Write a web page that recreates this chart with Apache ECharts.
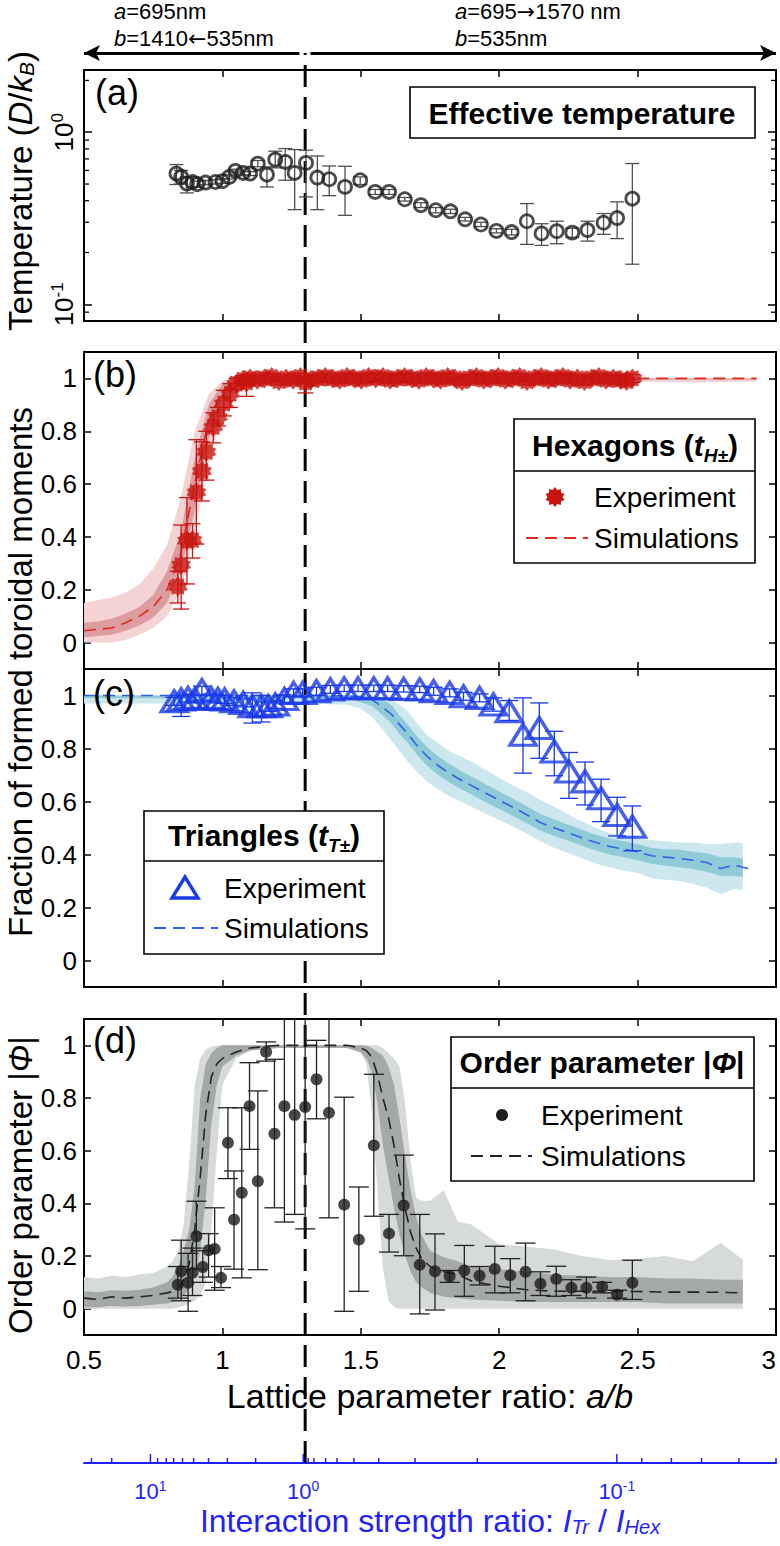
<!DOCTYPE html>
<html>
<head>
<meta charset="utf-8">
<title>Lattice parameter ratio</title>
<script src="https://cdn.jsdelivr.net/npm/echarts@6.0.0/dist/echarts.min.js"></script>
<style>
html,body{margin:0;padding:0;background:#ffffff;}
#chart{width:780px;height:1546px;}
</style>
</head>
<body>
<div id="chart"></div>
<script>
const FONT = "'Liberation Sans', Arial, Helvetica, sans-serif";

// ---------- shared a/b axis ----------
const xMin = 0.5, xMax = 3.0, xStep = 0.5;
const dividerAB = 1.299;                 // a/b = 695/535
const arrowLeftAB = [0.5, 1.278];
const arrowRightAB = [1.318, 3.0];

// ---------- (a) effective temperature ----------
const logMin = 0.08, logMax = 2.3;
const logMinorTicks = [0.09, 0.2, 0.3, 0.4, 0.5, 0.6, 0.7, 0.8, 0.9, 2];
const tempAB  = [0.834,0.851,0.872,0.892,0.909,0.939,0.975,1.000,1.025,1.047,1.075,1.100,1.128,1.161,1.191,1.227,1.261,1.302,1.343,1.386,1.443,1.498,1.552,1.602,1.659,1.717,1.771,1.824,1.877,1.934,1.990,2.045,2.100,2.153,2.208,2.264,2.319,2.377,2.426,2.481];
const tempVal = [0.575,0.550,0.503,0.514,0.499,0.510,0.514,0.520,0.550,0.596,0.580,0.575,0.657,0.567,0.694,0.672,0.580,0.663,0.545,0.533,0.481,0.526,0.450,0.450,0.408,0.377,0.352,0.347,0.312,0.291,0.267,0.263,0.304,0.258,0.266,0.261,0.270,0.298,0.317,0.411];
const tempLo  = [0.497,0.500,0.444,0.480,0.480,0.495,0.500,0.505,0.535,0.580,0.565,0.560,0.630,0.481,0.621,0.526,0.355,0.421,0.355,0.428,0.329,0.497,0.435,0.435,0.398,0.365,0.340,0.337,0.305,0.283,0.260,0.253,0.223,0.220,0.225,0.245,0.233,0.255,0.241,0.171];
const tempHi  = [0.649,0.600,0.550,0.550,0.520,0.525,0.530,0.535,0.565,0.610,0.595,0.590,0.685,0.629,0.776,0.804,0.793,0.786,0.728,0.637,0.634,0.550,0.465,0.465,0.418,0.390,0.365,0.357,0.320,0.300,0.275,0.273,0.385,0.294,0.304,0.277,0.304,0.337,0.394,0.658];

// ---------- (b) hexagons ----------
const hexAB = [0.839,0.851,0.872,0.892,0.906,0.926,0.942,0.967,0.984,1.005,
  1.028,1.050,1.075,1.087,1.100,1.126,1.152,1.178,1.204,1.230,
  1.256,1.282,1.300,1.320,1.346,1.372,1.398,1.424,1.450,1.476,
  1.502,1.528,1.554,1.580,1.606,1.632,1.658,1.684,1.710,1.736,
  1.762,1.788,1.814,1.840,1.866,1.892,1.918,1.944,1.970,1.996,
  2.022,2.048,2.074,2.100,2.126,2.152,2.178,2.204,2.230,2.256,
  2.282,2.308,2.334,2.360,2.386,2.412,2.438,2.460,2.481];
const hexVal = [0.212,0.294,0.386,0.388,0.569,0.649,0.722,0.816,0.854,0.905,
  0.942,0.980,0.995,0.985,1.000,0.995,1.000,1.005,0.990,1.000,
  0.995,1.005,0.985,0.995,1.000,1.005,1.000,0.995,1.005,1.000,
  0.995,1.005,1.000,1.005,0.995,1.000,1.005,1.000,0.995,1.005,
  1.000,0.995,1.005,1.000,0.990,1.000,1.005,0.995,1.000,1.005,
  0.995,1.000,1.005,0.990,1.000,1.005,0.995,1.000,1.005,0.995,
  1.000,0.990,1.000,1.005,0.995,1.000,0.995,0.990,1.000];
const hexErrDown = [0.062,0.167,0.164,0.068,0.196,0.113,0.107,0.060,0.034,0.047,
  0.052,0.020,0.020,0.053,0.015,0.015,0.015,0.015,0.015,0.015,
  0.015,0.015,0.040,0.015,0.015,0.015,0.015,0.015,0.015,0.015,
  0.015,0.015,0.015,0.015,0.015,0.015,0.015,0.015,0.015,0.015,
  0.015,0.015,0.015,0.015,0.015,0.015,0.015,0.015,0.015,0.015,
  0.015,0.015,0.015,0.015,0.015,0.015,0.015,0.015,0.015,0.015,
  0.015,0.015,0.015,0.015,0.015,0.015,0.015,0.015,0.015];
const hexErrUp = [0.058,0.151,0.163,0.062,0.199,0.111,0.078,0.054,0.036,0.050,
  0.038,0.020,0.015,0.025,0.015,0.015,0.015,0.015,0.015,0.015,
  0.015,0.015,0.015,0.015,0.015,0.015,0.015,0.015,0.015,0.015,
  0.015,0.015,0.015,0.015,0.015,0.015,0.015,0.015,0.015,0.015,
  0.015,0.015,0.015,0.015,0.015,0.015,0.015,0.015,0.015,0.015,
  0.015,0.015,0.015,0.015,0.015,0.015,0.015,0.015,0.015,0.015,
  0.015,0.015,0.015,0.015,0.015,0.015,0.015,0.015,0.015];
const hexSimX     = [0.50,0.55,0.60,0.65,0.70,0.75,0.80,0.85,0.90,0.95,1.00,1.05,1.10,1.20,1.50,2.00,2.50,2.70,2.93];
const hexSimY     = [0.045,0.050,0.055,0.075,0.100,0.135,0.200,0.340,0.600,0.840,0.950,0.990,1.000,1.000,1.000,1.000,1.000,1.000,1.000];
const hexDarkLo   = [0.020,0.025,0.030,0.045,0.065,0.095,0.150,0.270,0.500,0.770,0.920,0.970,0.990,0.995,0.995,0.995,0.995,0.995,0.995];
const hexDarkHi   = [0.075,0.080,0.090,0.110,0.135,0.180,0.270,0.420,0.700,0.900,0.980,1.000,1.000,1.000,1.000,1.000,1.000,1.000,1.000];
const hexLightLo  = [0.000,0.000,0.000,0.010,0.030,0.055,0.100,0.200,0.420,0.680,0.870,0.950,0.980,0.990,0.990,0.990,0.988,0.985,0.988];
const hexLightHi  = [0.150,0.160,0.170,0.190,0.220,0.280,0.370,0.550,0.800,0.940,0.990,1.000,1.000,1.000,1.000,1.000,1.000,1.000,1.000];

// ---------- (c) triangles ----------
const triAB  = [0.826,0.851,0.876,0.901,0.926,0.959,0.984,1.008,1.042,1.075,
  1.108,1.141,1.166,1.191,1.224,1.257,1.290,1.340,1.390,1.440,
  1.490,1.547,1.597,1.655,1.713,1.763,1.821,1.871,1.929,1.979,
  2.036,2.086,2.145,2.199,2.252,2.310,2.368,2.426,2.481];
const triVal = [0.978,0.985,0.991,0.987,1.020,0.991,0.987,0.985,0.978,0.972,
  0.960,0.960,0.960,0.966,0.987,1.010,1.010,1.016,1.023,1.027,
  1.027,1.027,1.027,1.025,1.023,1.016,1.010,0.997,0.991,0.966,
  0.941,0.852,0.877,0.789,0.713,0.676,0.612,0.549,0.505];
const triErrDown = [0.015,0.064,0.015,0.015,0.020,0.015,0.015,0.015,0.015,0.015,
  0.064,0.060,0.020,0.015,0.015,0.015,0.015,0.015,0.015,0.012,
  0.012,0.012,0.012,0.012,0.012,0.015,0.015,0.015,0.015,0.025,
  0.035,0.145,0.114,0.092,0.101,0.089,0.088,0.079,0.091];
const triErrUp = [0.015,0.015,0.015,0.015,0.015,0.015,0.015,0.015,0.015,0.015,
  0.050,0.040,0.015,0.015,0.015,0.015,0.015,0.015,0.015,0.012,
  0.012,0.012,0.012,0.012,0.012,0.015,0.015,0.015,0.015,0.025,
  0.040,0.139,0.095,0.076,0.072,0.073,0.072,0.067,0.078];
const triSimX = [0.50,0.70,0.90,1.10,1.30,1.45,1.50,1.54,1.58,1.61,1.64,1.67,1.70,1.74,1.78,1.82,1.86,1.90,1.95,2.00,2.05,2.10,2.15,2.20,2.25,2.30,2.35,2.40,2.45,2.50,2.55,2.60,2.65,2.70,2.75,2.80,2.85,2.88,2.924];
const triSimY = [1.000,1.000,1.000,1.000,1.000,0.998,0.995,0.985,0.955,0.930,0.890,0.855,0.815,0.770,0.735,0.707,0.682,0.660,0.632,0.605,0.578,0.550,0.520,0.500,0.482,0.462,0.445,0.430,0.420,0.410,0.395,0.390,0.385,0.378,0.370,0.347,0.360,0.352,0.341];
const triBandX = [0.50,0.70,0.90,1.10,1.30,1.45,1.50,1.54,1.58,1.61,1.64,1.67,1.70,1.74,1.78,1.82,1.86,1.90,1.95,2.00,2.05,2.10,2.15,2.20,2.25,2.30,2.35,2.40,2.45,2.50,2.55,2.60,2.65,2.70,2.75,2.80,2.85,2.88];
const triDarkLo  = [0.990,0.990,0.990,0.990,0.990,0.988,0.975,0.960,0.925,0.895,0.855,0.820,0.780,0.735,0.700,0.672,0.648,0.626,0.598,0.572,0.545,0.518,0.490,0.470,0.452,0.432,0.415,0.400,0.390,0.378,0.365,0.358,0.352,0.345,0.335,0.320,0.318,0.316];
const triDarkHi  = [1.000,1.000,1.000,1.000,1.000,1.000,1.000,0.998,0.985,0.965,0.925,0.890,0.850,0.805,0.770,0.742,0.716,0.694,0.666,0.638,0.610,0.582,0.552,0.532,0.512,0.492,0.475,0.460,0.450,0.440,0.425,0.420,0.418,0.410,0.405,0.390,0.390,0.385];
const triLightLo = [0.970,0.970,0.970,0.970,0.970,0.965,0.950,0.920,0.870,0.830,0.790,0.750,0.715,0.675,0.645,0.620,0.600,0.580,0.555,0.530,0.505,0.478,0.450,0.425,0.405,0.385,0.365,0.352,0.340,0.330,0.310,0.305,0.300,0.290,0.275,0.250,0.270,0.265];
const triLightHi = [1.000,1.000,1.000,1.000,1.000,1.000,1.000,1.000,0.995,0.985,0.965,0.940,0.900,0.850,0.820,0.790,0.770,0.750,0.720,0.690,0.660,0.635,0.605,0.580,0.550,0.525,0.500,0.480,0.470,0.460,0.455,0.450,0.445,0.445,0.440,0.440,0.445,0.445];

// ---------- (d) order parameter ----------
const ordAB  = [0.839,0.851,0.876,0.892,0.906,0.929,0.950,0.972,0.995,1.020,
  1.042,1.070,1.098,1.128,1.158,1.188,1.224,1.261,1.299,1.340,
  1.385,1.440,1.493,1.547,1.602,1.655,1.713,1.768,1.821,1.874,
  1.929,1.984,2.040,2.095,2.149,2.206,2.261,2.315,2.372,2.426,2.481];
const ordVal = [0.091,0.142,0.098,0.136,0.275,0.158,0.222,0.227,0.117,0.630,
  0.338,0.440,0.769,0.484,0.975,0.664,0.769,0.735,0.766,0.871,
  0.744,0.395,0.262,0.620,0.285,0.392,0.167,0.142,0.123,0.145,
  0.125,0.151,0.127,0.140,0.095,0.113,0.079,0.079,0.083,0.053,0.098];
const ordLo  = [0.040,0.030,-0.010,0.050,0.150,0.100,0.120,0.070,0.080,0.494,
  0.150,0.117,0.605,0.148,0.940,0.383,0.329,0.358,0.303,0.721,
  0.345,-0.010,0.066,0.351,0.215,0.201,-0.020,-0.005,0.100,0.047,
  0.090,0.060,0.060,0.030,0.050,0.047,0.050,0.040,0.060,0.040,0.035];
const ordHi  = [0.160,0.260,0.210,0.230,0.408,0.220,0.285,0.383,0.160,0.763,
  0.523,0.763,0.934,0.827,1.013,0.947,1.210,1.150,1.230,1.019,
  1.140,0.803,0.462,0.890,0.358,0.583,0.358,0.284,0.145,0.240,
  0.160,0.237,0.190,0.249,0.140,0.161,0.110,0.120,0.100,0.070,0.184];
const ordSimX = [0.50,0.55,0.60,0.65,0.70,0.75,0.80,0.82,0.84,0.86,0.88,0.90,0.92,0.94,0.96,0.98,1.00,1.05,1.10,1.20,1.30,1.40,1.45,1.50,1.52,1.54,1.56,1.58,1.60,1.62,1.64,1.66,1.68,1.70,1.72,1.75,1.80,1.85,1.90,2.00,2.10,2.20,2.30,2.40,2.50,2.60,2.70,2.80,2.88];
const ordSimY = [0.040,0.035,0.045,0.040,0.045,0.050,0.060,0.065,0.080,0.110,0.170,0.300,0.500,0.740,0.880,0.930,0.950,0.975,0.990,1.000,1.000,1.000,1.000,0.990,0.980,0.955,0.890,0.800,0.725,0.620,0.490,0.380,0.290,0.230,0.190,0.160,0.140,0.130,0.105,0.085,0.072,0.066,0.066,0.066,0.065,0.063,0.063,0.062,0.060];
const ordDarkLo = [0.005,0.005,0.010,0.008,0.010,0.015,0.020,0.025,0.035,0.050,0.075,0.120,0.220,0.420,0.700,0.850,0.920,0.960,0.980,0.990,0.990,0.990,0.990,0.975,0.950,0.900,0.780,0.620,0.500,0.380,0.280,0.200,0.140,0.100,0.080,0.060,0.045,0.040,0.035,0.030,0.025,0.025,0.025,0.025,0.025,0.020,0.020,0.020,0.020];
const ordDarkHi = [0.066,0.062,0.070,0.068,0.072,0.080,0.100,0.120,0.160,0.220,0.300,0.470,0.800,0.930,0.970,0.990,1.000,1.000,1.000,1.000,1.000,1.000,1.000,1.000,0.998,0.990,0.975,0.960,0.920,0.850,0.720,0.580,0.450,0.350,0.280,0.220,0.195,0.180,0.160,0.150,0.140,0.130,0.125,0.120,0.120,0.115,0.115,0.110,0.110];
const ordLightLo = [0.000,0.000,0.000,0.000,0.000,0.000,0.000,0.000,0.005,0.010,0.020,0.030,0.050,0.100,0.300,0.600,0.850,0.950,0.980,0.990,0.990,0.990,0.990,0.970,0.930,0.750,0.450,0.150,0.030,0.005,0.000,0.000,0.000,0.000,0.000,0.000,0.000,0.000,0.000,0.000,0.000,0.000,0.000,0.000,0.000,0.000,0.000,0.000,0.000];
const ordLightHi = [0.120,0.115,0.125,0.120,0.130,0.135,0.160,0.180,0.220,0.320,0.550,0.850,0.950,0.985,0.995,1.000,1.000,1.000,1.000,1.000,1.000,1.000,1.000,1.000,1.000,1.000,1.000,0.990,0.970,0.950,0.920,0.780,0.560,0.420,0.410,0.410,0.450,0.330,0.320,0.245,0.235,0.225,0.200,0.185,0.190,0.200,0.180,0.250,0.186];

// ---------- interaction-strength axis (positions in a/b units) ----------
const blueMajorAB  = [0.740, 1.292, 2.425];
const blueMajorExp = ['1', '0', '-1'];
const blueMinorAB  = [0.527,0.600,0.766,0.797,0.824,0.856,0.896,0.950,1.018,1.120,1.310,1.331,1.373,1.414,1.475,1.565,1.696,1.921,2.515,2.622,2.731,2.866,3.000];

// ---------- colours ----------
const BLUE = '#1f1fff';
const HEX_C = '#c8140f', HEX_LINE = '#e4271f', HEX_DARK = '#dc9da0', HEX_LIGHT = '#f3d3d3';
const TRI_C = '#1a3ae8', TRI_LINE = '#2f62ee', TRI_DARK = '#8fcad6', TRI_LIGHT = '#cce8ee';
const ORD_C = '#1c1c1c', ORD_LINE = '#222222', ORD_DARK = '#a5a9a6', ORD_LIGHT = '#d6dbd7';
const TEMP_C = '#1e1e1e';

function rich(size, color, weight, lhf) {
  const w = weight || 'normal';
  const lh = Math.round(size * (lhf || 1.3));
  const small = Math.round(size * 0.64);
  const base = {fontFamily: FONT, fontWeight: w, color: color, fill: color};
  return {
    n: Object.assign({fontSize: size, lineHeight: lh, verticalAlign: 'middle'}, base),
    i: Object.assign({fontSize: size, lineHeight: lh, verticalAlign: 'middle', fontStyle: 'italic'}, base),
    ar: Object.assign({fontSize: size, lineHeight: lh, verticalAlign: 'middle'}, base, {fontFamily: "'DejaVu Sans', sans-serif"}),
    sub: Object.assign({fontSize: small, lineHeight: small, verticalAlign: 'bottom', fontStyle: 'italic'}, base),
    sup: Object.assign({fontSize: small, lineHeight: small, verticalAlign: 'top'}, base)
  };
}

function starPath(n, rIn) {
  let d = '';
  for (let k = 0; k < 2 * n; k++) {
    const r = (k % 2) ? rIn : 1;
    const a = Math.PI * k / n - Math.PI / 2;
    d += (k ? 'L' : 'M') + (50 + 50 * r * Math.cos(a)).toFixed(2) + ' ' + (50 + 50 * r * Math.sin(a)).toFixed(2);
  }
  return 'path://' + d + 'Z';
}
function starPoints(cx, cy, R, n, rIn) {
  const pts = [];
  for (let k = 0; k < 2 * n; k++) {
    const r = (k % 2) ? rIn * R : R;
    const a = Math.PI * k / n - Math.PI / 2;
    pts.push([cx + r * Math.cos(a), cy + r * Math.sin(a)]);
  }
  return pts;
}

// ---------- layout ----------
const GL = 84, GW = 692;
const grids = [
  {left: GL, width: GW, top: 70, height: 251},
  {left: GL, width: GW, top: 352, height: 317},
  {left: GL, width: GW, top: 669, height: 318},
  {left: GL, width: GW, top: 1019, height: 316},
  {left: GL, width: GW, top: 53, height: 1410}
].map(g => Object.assign({show: false, containLabel: false, outerBoundsMode: 'none'}, g));

function mkX(g, pos, labels) {
  const ax = {
    gridIndex: g, type: 'value', min: xMin, max: xMax, interval: xStep, position: pos,
    axisLine: {show: true, onZero: false, lineStyle: {color: '#000', width: 2}},
    axisTick: {show: true, inside: true, length: 7, lineStyle: {color: '#000', width: 1.5}},
    axisLabel: {show: labels, color: '#000', fontSize: 26, fontFamily: FONT, margin: 12, alignMaxLabel: 'right', formatter: v => String(v)},
    splitLine: {show: false}
  };
  if (labels) {
    Object.assign(ax, {
      name: '{n|Lattice parameter ratio: }{i|a/b}', nameLocation: 'middle', nameGap: 44, nameMoveOverlap: false,
      nameTextStyle: {fontSize: 34, fontFamily: FONT, color: '#000', rich: rich(34, '#000', 'normal', 1.0)}
    });
  }
  return ax;
}
const xAxes = [];
for (let g = 0; g < 4; g++) { xAxes.push(mkX(g, 'bottom', g === 3)); xAxes.push(mkX(g, 'top', false)); }
xAxes.push({
  gridIndex: 4, type: 'value', min: xMin, max: xMax, position: 'bottom',
  axisLine: {show: true, onZero: false, lineStyle: {color: BLUE, width: 2}},
  axisTick: {show: false}, axisLabel: {show: false}, splitLine: {show: false},
  name: '{n|Interaction strength ratio: }{i|I}{sub|Tr}{n| / }{i|I}{sub|Hex}', nameLocation: 'middle', nameGap: 42, nameMoveOverlap: false,
  nameTextStyle: {fontSize: 32, fontFamily: FONT, color: BLUE, rich: rich(32, BLUE, 'normal', 1.0)}
});

function logLabel(v) {
  const e = Math.log10(v), r = Math.round(e);
  if (Math.abs(e - r) > 1e-6) return '';
  return '{n|10}{sup|' + r + '}';
}
function mkLogY(pos, labels) {
  return {
    gridIndex: 0, type: 'log', logBase: 10, min: logMin, max: logMax, position: pos,
    axisLine: {show: true, onZero: false, lineStyle: {color: '#000', width: 2}},
    axisTick: {show: true, inside: true, length: 8, lineStyle: {color: '#000', width: 1.5}},
    axisLabel: {show: labels, rotate: 90, margin: 6, formatter: logLabel, rich: rich(26, '#000', 'normal', 1.1)},
    splitLine: {show: false}, minorTick: {show: false}
  };
}
function mkValY(g, pos, labels) {
  return {
    gridIndex: g, type: 'value', min: -0.1, max: 1.1, position: pos,
    axisLine: {show: true, onZero: false, lineStyle: {color: '#000', width: 2}},
    axisTick: {show: true, inside: true, length: 7, lineStyle: {color: '#000', width: 1.5}},
    axisLabel: {show: labels, color: '#000', fontSize: 26, fontFamily: FONT, margin: 7, showMinLabel: false, showMaxLabel: false},
    splitLine: {show: false}
  };
}
const yAxes = [mkLogY('left', true), mkLogY('right', false)];
for (let g = 1; g < 4; g++) { yAxes.push(mkValY(g, 'left', true)); yAxes.push(mkValY(g, 'right', false)); }
yAxes.push({gridIndex: 4, type: 'value', min: 0, max: 1, show: false});

// ---------- series helpers ----------
function errSeries(xi, yi, rows, capW, color, lw) {
  return {
    type: 'custom', xAxisIndex: xi, yAxisIndex: yi, data: rows, encode: {x: 0, y: 1}, clip: true, z: 4, silent: true,
    renderItem: (params, api) => {
      const x = api.value(0), lo = api.value(2), hi = api.value(3);
      const a = api.coord([x, lo]), b = api.coord([x, hi]), h = capW / 2;
      const st = {stroke: color, lineWidth: lw};
      return {type: 'group', children: [
        {type: 'line', shape: {x1: a[0], y1: a[1], x2: b[0], y2: b[1]}, style: st},
        {type: 'line', shape: {x1: a[0] - h, y1: a[1], x2: a[0] + h, y2: a[1]}, style: st},
        {type: 'line', shape: {x1: b[0] - h, y1: b[1], x2: b[0] + h, y2: b[1]}, style: st}
      ]};
    }
  };
}
function bandSeries(xi, yi, xs, lo, hi, color) {
  return {
    type: 'custom', xAxisIndex: xi, yAxisIndex: yi, data: xs.map((x, k) => [x, lo[k], hi[k]]),
    encode: {x: 0, y: [1, 2]}, clip: true, z: 1, silent: true,
    renderItem: (params, api) => {
      if (params.dataIndex !== 0) return null;
      const pts = [];
      for (let k = 0; k < xs.length; k++) pts.push(api.coord([xs[k], hi[k]]));
      for (let k = xs.length - 1; k >= 0; k--) pts.push(api.coord([xs[k], lo[k]]));
      return {type: 'polygon', shape: {points: pts}, style: {fill: color}};
    }
  };
}
function simLine(xi, yi, xs, ys, color) {
  return {type: 'line', xAxisIndex: xi, yAxisIndex: yi, data: xs.map((x, k) => [x, ys[k]]), symbol: 'none',
    lineStyle: {color: color, width: 1.6, type: [12, 7]}, z: 2, silent: true, clip: true};
}

const series = [];
// (a)
series.push(errSeries(0, 0, tempAB.map((x, k) => [x, tempVal[k], tempLo[k], tempHi[k]]), 14, '#505050', 1.3));
series.push({type: 'scatter', xAxisIndex: 0, yAxisIndex: 0, data: tempAB.map((x, k) => [x, tempVal[k]]),
  symbol: 'circle', symbolSize: 13, itemStyle: {color: 'rgba(0,0,0,0)', borderColor: TEMP_C, borderWidth: 2.8}, z: 5, silent: true});
series.push({type: 'custom', xAxisIndex: 0, yAxisIndex: 0, data: logMinorTicks.map(v => [xMin, v]), encode: {x: 0, y: 1},
  clip: false, z: 6, silent: true,
  renderItem: (params, api) => {
    const v = api.value(1);
    const pL = api.coord([xMin, v]), pR = api.coord([xMax, v]);
    const st = {stroke: '#000', lineWidth: 1.3};
    return {type: 'group', children: [
      {type: 'line', shape: {x1: pL[0], y1: pL[1], x2: pL[0] + 5, y2: pL[1]}, style: st},
      {type: 'line', shape: {x1: pR[0] - 5, y1: pR[1], x2: pR[0], y2: pR[1]}, style: st}
    ]};
  }});
// (b)
series.push(bandSeries(2, 2, hexSimX, hexLightLo, hexLightHi, HEX_LIGHT));
series.push(bandSeries(2, 2, hexSimX, hexDarkLo, hexDarkHi, HEX_DARK));
series.push(simLine(2, 2, hexSimX, hexSimY, HEX_LINE));
series.push(errSeries(2, 2, hexAB.map((x, k) => [x, hexVal[k], hexVal[k] - hexErrDown[k], hexVal[k] + hexErrUp[k]]), 16, HEX_C, 1.3));
series.push({type: 'scatter', xAxisIndex: 2, yAxisIndex: 2, data: hexAB.map((x, k) => [x, hexVal[k]]),
  symbol: starPath(10, 0.74), symbolSize: 20, itemStyle: {color: HEX_C}, z: 5, silent: true});
// (c)
series.push(bandSeries(4, 4, triBandX, triLightLo, triLightHi, TRI_LIGHT));
series.push(bandSeries(4, 4, triBandX, triDarkLo, triDarkHi, TRI_DARK));
series.push(simLine(4, 4, triSimX, triSimY, TRI_LINE));
series.push(errSeries(4, 4, triAB.map((x, k) => [x, triVal[k], triVal[k] - triErrDown[k], triVal[k] + triErrUp[k]]), 18, TRI_C, 1.3));
series.push({type: 'scatter', xAxisIndex: 4, yAxisIndex: 4, data: triAB.map((x, k) => [x, triVal[k]]),
  symbol: 'triangle', symbolSize: [26, 21], itemStyle: {color: 'rgba(0,0,0,0)', borderColor: TRI_C, borderWidth: 3.4}, z: 5, silent: true});
// (d)
series.push(bandSeries(6, 6, ordSimX, ordLightLo, ordLightHi, ORD_LIGHT));
series.push(bandSeries(6, 6, ordSimX, ordDarkLo, ordDarkHi, ORD_DARK));
series.push(simLine(6, 6, ordSimX, ordSimY, ORD_LINE));
series.push(errSeries(6, 6, ordAB.map((x, k) => [x, ordVal[k], ordLo[k], ordHi[k]]), 20, '#222', 1.3));
series.push({type: 'scatter', xAxisIndex: 6, yAxisIndex: 6, data: ordAB.map((x, k) => [x, ordVal[k]]),
  symbol: 'circle', symbolSize: 12, itemStyle: {color: ORD_C}, z: 5, silent: true});
// overlay: divider + header arrows
series.push({type: 'line', xAxisIndex: 8, yAxisIndex: 8, data: [[dividerAB, 0], [dividerAB, 1]], symbol: 'none',
  lineStyle: {color: '#000', width: 3, type: [22, 10]}, z: 3, silent: true, clip: false,
  markLine: {silent: true, animation: false, symbol: ['none', 'none'], symbolSize: [12, 16], label: {show: false},
    emphasis: {disabled: true}, lineStyle: {color: '#000', width: 3, type: 'solid'},
    data: [
      [{coord: [arrowLeftAB[0], 1], symbol: 'arrow'}, {coord: [arrowLeftAB[1], 1], symbol: 'none'}],
      [{coord: [arrowRightAB[0], 1], symbol: 'none'}, {coord: [arrowRightAB[1], 1], symbol: 'arrow'}]
    ]}});
// interaction-strength axis ticks and labels
function tickSeries(list, len) {
  return {type: 'custom', xAxisIndex: 8, yAxisIndex: 8, data: list.map(x => [x, 0]), encode: {x: 0, y: 1}, clip: false, z: 6, silent: true,
    renderItem: (params, api) => {
      const c = api.coord([api.value(0), 0]);
      return {type: 'line', shape: {x1: c[0], y1: c[1], x2: c[0], y2: c[1] - len}, style: {stroke: BLUE, lineWidth: 1.5}};
    }};
}
series.push(tickSeries(blueMajorAB, 9));
series.push(tickSeries(blueMinorAB, 5));
series.push({type: 'custom', xAxisIndex: 8, yAxisIndex: 8, data: blueMajorAB.map((x, k) => [x, 0, k]), encode: {x: 0, y: 1},
  clip: false, z: 6, silent: true,
  renderItem: (params, api) => {
    const c = api.coord([api.value(0), 0]);
    const e = blueMajorExp[api.value(2)];
    return {type: 'text', x: c[0], y: c[1] + 28, style: {text: '{n|10}{sup|' + e + '}', align: 'center', verticalAlign: 'middle',
      fill: BLUE, fontSize: 22, fontFamily: FONT, rich: rich(22, BLUE, 'normal', 1.1)}};
  }});

// ---------- annotations (graphic) ----------
function txt(x, y, text, size, opts) {
  opts = opts || {};
  return {type: 'text', x: x, y: y, rotation: opts.rotation || 0, z: 110, silent: true,
    style: {text: text, align: opts.align || 'left', verticalAlign: 'middle', fill: opts.color || '#000',
      fontSize: size, fontFamily: FONT, fontWeight: opts.weight || 'normal', rich: rich(size, opts.color || '#000', opts.weight, opts.lhf)}};
}
function box(x, y, w, h) {
  return {type: 'rect', shape: {x: x, y: y, width: w, height: h}, z: 100, silent: true, style: {fill: '#fff', stroke: '#000', lineWidth: 1.6}};
}
function hline(x1, x2, y, color, dash, lw) {
  return {type: 'line', shape: {x1: x1, y1: y, x2: x2, y2: y}, z: 105, silent: true,
    style: {stroke: color, lineWidth: lw || 1.6, lineDash: dash || null}};
}
const graphics = [
  // header
  txt(114, 11, '{i|a}{n|=695nm}', 22),
  txt(114, 38, '{i|b}{n|=1410}{ar|←}{n|535nm}', 22),
  txt(455, 11, '{i|a}{n|=695}{ar|→}{n|1570 nm}', 22),
  txt(455, 38, '{i|b}{n|=535nm}', 22),
  // y titles
  txt(20, 191, '{n|Temperature (}{i|D}{n|/}{i|k}{sub|B}{n|)}', 33, {rotation: Math.PI / 2, align: 'center', lhf: 1.0}),
  txt(20, 672, '{n|Fraction of formed toroidal moments}', 33, {rotation: Math.PI / 2, align: 'center', lhf: 1.0}),
  txt(20, 1185, '{n|Order parameter |}{i|Φ}{n||}', 33, {rotation: Math.PI / 2, align: 'center', lhf: 1.0}),
  // panel labels
  txt(95, 92, '{n|(a)}', 36),
  txt(93, 374, '{n|(b)}', 36),
  txt(93, 693, '{n|(c)}', 36),
  txt(93, 1040, '{n|(d)}', 36),
  // legend (a)
  box(410, 87, 345, 51),
  txt(582, 113, '{n|Effective temperature}', 30, {align: 'center', weight: 'bold'}),
  // legend (b)
  box(514, 419, 241, 144),
  hline(514, 755, 471, '#000'),
  txt(635, 445, '{n|Hexagons (}{i|t}{sub|H±}{n|)}', 30, {align: 'center', weight: 'bold'}),
  {type: 'polygon', shape: {points: starPoints(555, 497, 10, 10, 0.74)}, z: 105, silent: true, style: {fill: HEX_C}},
  txt(594, 497, '{n|Experiment}', 28),
  hline(526, 588, 538, HEX_LINE, [12, 7], 1.8),
  txt(594, 538, '{n|Simulations}', 28),
  // legend (c)
  box(144, 811, 240, 143),
  hline(144, 384, 861, '#000'),
  txt(264, 835, '{n|Triangles (}{i|t}{sub|T±}{n|)}', 30, {align: 'center', weight: 'bold'}),
  {type: 'polygon', shape: {points: [[185, 877], [172, 898], [198, 898]]}, z: 105, silent: true, style: {fill: 'none', stroke: TRI_C, lineWidth: 3.4}},
  txt(224, 888, '{n|Experiment}', 28),
  hline(154, 218, 928, TRI_LINE, [12, 7], 1.8),
  txt(224, 928, '{n|Simulations}', 28),
  // legend (d)
  box(451, 1037, 303, 144),
  hline(451, 754, 1088, '#000'),
  txt(602, 1062, '{n|Order parameter |}{i|Φ}{n||}', 30, {align: 'center', weight: 'bold'}),
  {type: 'circle', shape: {cx: 502, cy: 1115, r: 6}, z: 105, silent: true, style: {fill: ORD_C}},
  txt(541, 1115, '{n|Experiment}', 28),
  hline(471, 532, 1156, ORD_LINE, [12, 7], 1.8),
  txt(541, 1156, '{n|Simulations}', 28)
];

const chart = echarts.init(document.getElementById('chart'), null, {renderer: 'svg', width: 780, height: 1546});
chart.setOption({
  backgroundColor: '#ffffff',
  animation: false,
  textStyle: {fontFamily: FONT},
  grid: grids,
  xAxis: xAxes,
  yAxis: yAxes,
  series: series,
  graphic: {elements: graphics}
});
</script>
</body>
</html>
